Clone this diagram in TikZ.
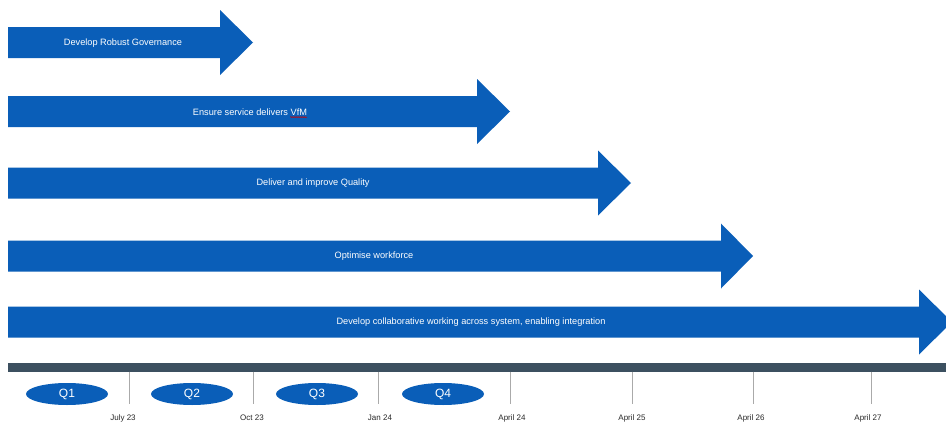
\documentclass[tikz,border=0pt]{standalone}
\usepackage{fontspec}
\setmainfont{Liberation Sans}
\usetikzlibrary{decorations.pathmorphing,shapes.geometric}
\definecolor{roadblue}{RGB}{10,94,184}
\definecolor{barslate}{RGB}{60,80,96}
\definecolor{tickgray}{RGB}{170,170,170}
\definecolor{datetext}{RGB}{40,40,40}
% workstream arrow: body from x=8, centre line y, head base x, tip x
\newcommand{\roadarrow}[3]{%
  \fill[roadblue] (8,#1-15.5) -- (#2,#1-15.5) -- (#2,#1-32.5) -- (#3,#1)
    -- (#2,#1+32.5) -- (#2,#1+15.5) -- (8,#1+15.5) -- cycle;}
\tikzset{
  streamlabel/.style={text=white, font=\fontsize{9.2}{11}\selectfont, inner sep=0pt},
  quarter/.style={ellipse, fill=roadblue, text=white, minimum width=82pt, minimum height=22pt,
    inner sep=0pt, font=\fontsize{12}{14}\selectfont},
  datelabel/.style={text=datetext, font=\fontsize{8}{9}\selectfont, inner sep=0pt},
  tick/.style={draw=tickgray, line width=0.8pt}
}
\begin{document}
\begin{tikzpicture}[x=1pt,y=-1pt]
\useasboundingbox (0,0) rectangle (946,423);
\fill[white] (0,0) rectangle (946,423);
\begin{scope}
\clip (0,0) rectangle (946,423);
% workstream arrows
\roadarrow{42.5}{220}{253}
\roadarrow{111.5}{477}{510}
\roadarrow{183}{598}{631}
\roadarrow{256}{721}{753}
\roadarrow{322}{919}{952}
\end{scope}
\node[streamlabel] (s1) at (123,43) {Develop Robust Governance};
\node[streamlabel] (s2) at (250,112) {Ensure service delivers VfM};
\draw[red!80!black, line width=0.5pt, decorate, decoration={snake, amplitude=0.5pt, segment length=2pt}]
  ([xshift=-17pt,yshift=-1.5pt]s2.south east) -- ([yshift=-1.5pt]s2.south east);
\node[streamlabel] (s3) at (313,183) {Deliver and improve Quality};
\node[streamlabel] (s4) at (374,256) {Optimise workforce};
\node[streamlabel] (s5) at (471,322) {Develop collaborative working across system, enabling integration};
% timeline bar
\fill[barslate] (8,362.5) rectangle (946,371.5);
% quarter markers
\node[quarter] (q1) at (67,394) {Q1};
\node[quarter] (q2) at (192,394) {Q2};
\node[quarter] (q3) at (317,394) {Q3};
\node[quarter] (q4) at (443,394) {Q4};
% date ticks and labels
\foreach \x/\lx/\name/\txt in {129/123/d1/July 23, 253/252/d2/Oct 23, 378/380/d3/Jan 24,
    510/512/d4/April 24, 632/632/d5/April 25, 753/751/d6/April 26, 871/868/d7/April 27}{
  \draw[tick] (\x,371.5) -- (\x,404);
  \node[datelabel] (\name) at (\lx,418) {\txt};
}
\end{tikzpicture}
\end{document}
